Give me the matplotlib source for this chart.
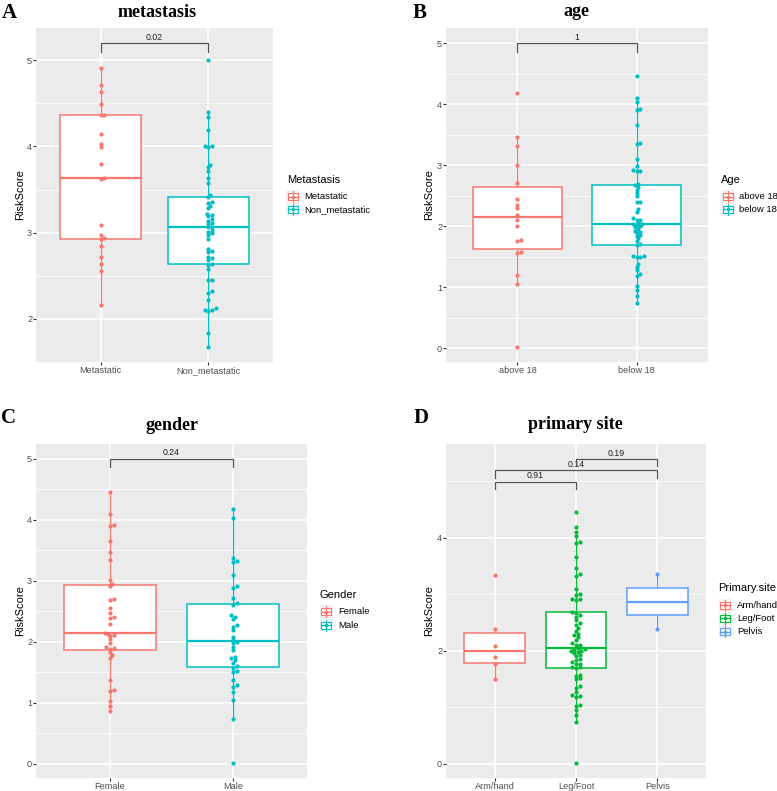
import numpy as np
import matplotlib
matplotlib.use("Agg")
import matplotlib.pyplot as plt
from matplotlib.patches import Rectangle
from matplotlib.lines import Line2D

plt.rcParams['font.family'] = ['Liberation Sans', 'DejaVu Sans']

# ---- data ----
meta_groups = ["Metastatic", "Non_metastatic"]
meta_metastatic = [4.91, 4.71, 4.63, 4.49, 4.37, 4.36, 4.15, 4.03, 3.99, 3.80, 3.63, 3.62,
                   3.09, 2.97, 2.94, 2.92, 2.84, 2.72, 2.64, 2.55, 2.16]
meta_non = [5.01, 4.40, 4.34, 4.19, 4.01, 4.00, 3.99, 3.79, 3.76, 3.72, 3.63, 3.58, 3.44,
            3.41, 3.36, 3.34, 3.31, 3.28, 3.22, 3.20, 3.19, 3.16, 3.14, 3.11, 3.10, 3.07,
            3.06, 3.03, 3.01, 2.99, 2.97, 2.93, 2.81, 2.79, 2.77, 2.72, 2.70, 2.68, 2.64,
            2.62, 2.58, 2.45, 2.45, 2.32, 2.30, 2.22, 2.12, 2.10, 2.10, 2.09, 1.83, 1.67]
meta_p = "0.02"

age_groups = ["above 18", "below 18"]
age_above = [4.19, 3.47, 3.32, 3.00, 2.71, 2.45, 2.35, 2.30, 2.19, 2.11, 2.00, 1.77, 1.76,
             1.58, 1.56, 1.20, 1.05, 0.02]
age_below = [4.46, 4.10, 4.03, 3.92, 3.91, 3.66, 3.36, 3.35, 3.10, 2.99, 2.92, 2.91, 2.90,
             2.69, 2.67, 2.64, 2.60, 2.54, 2.49, 2.40, 2.39, 2.28, 2.24, 2.13, 2.11, 2.10,
             2.06, 2.04, 2.03, 2.02, 2.00, 1.98, 1.96, 1.93, 1.91, 1.89, 1.86, 1.84, 1.80,
             1.76, 1.71, 1.69, 1.52, 1.51, 1.50, 1.50, 1.38, 1.34, 1.28, 1.21, 1.19, 1.02,
             0.95, 0.86, 0.74]
age_p = "1"

gender_groups = ["Female", "Male"]
gender_female = [4.46, 4.09, 3.91, 3.89, 3.65, 3.47, 3.34, 3.01, 2.95, 2.91, 2.70, 2.68,
                 2.55, 2.48, 2.41, 2.39, 2.29, 2.14, 2.13, 2.12, 2.09, 2.04, 1.98, 1.91,
                 1.90, 1.89, 1.84, 1.78, 1.74, 1.37, 1.21, 1.20, 1.03, 0.95, 0.87]
gender_male = [4.17, 4.03, 3.37, 3.33, 3.31, 3.09, 2.91, 2.89, 2.72, 2.63, 2.60, 2.44, 2.41,
               2.37, 2.28, 2.25, 2.19, 2.08, 2.03, 2.00, 1.98, 1.92, 1.87, 1.76, 1.73, 1.70,
               1.66, 1.61, 1.58, 1.52, 1.50, 1.37, 1.29, 1.26, 1.18, 1.04, 0.74, 0.01]
gender_p = "0.24"

site_groups = ["Arm/hand", "Leg/Foot", "Pelvis"]
site_arm = [3.33, 2.38, 2.09, 1.89, 1.76, 1.50]
site_leg = [4.46, 4.19, 4.10, 4.03, 3.92, 3.91, 3.66, 3.47, 3.36, 3.32, 3.10, 3.00, 2.99,
            2.92, 2.91, 2.90, 2.68, 2.67, 2.64, 2.60, 2.54, 2.49, 2.45, 2.40, 2.35, 2.30,
            2.28, 2.24, 2.19, 2.13, 2.11, 2.10, 2.04, 2.03, 2.02, 2.00, 2.00, 1.98, 1.96,
            1.93, 1.91, 1.86, 1.84, 1.80, 1.77, 1.76, 1.72, 1.71, 1.70, 1.58, 1.56, 1.51,
            1.50, 1.38, 1.34, 1.28, 1.21, 1.20, 1.19, 1.05, 1.02, 0.95, 0.86, 0.74, 0.02]
site_pelvis = [3.35, 2.39]
site_pairs = [(1, 2), (1, 3), (2, 3)]
site_p = ["0.91", "0.14", "0.19"]

pal2 = ['#F8766D', '#00BFC4']
pal3 = ['#F8766D', '#00BA38', '#619CFF']

W, H = 777, 791
fig = plt.figure(figsize=(W / 100, H / 100), dpi=100)


def fxy(x, y):
    return x / W, 1 - y / H


def swarm_offsets(vals, ypx, xunit, d=3.0):
    # simple beeswarm in pixel space, returns x offsets in data units
    vals = np.asarray(vals, dtype=float)
    ys = vals * ypx
    placed = []
    offs = np.zeros(len(vals))
    cands = [0.0]
    for k in range(1, 10):
        cands += [k * d * 0.6, -k * d * 0.6]
    for i in np.argsort(vals):
        y = ys[i]
        near = [(px, py) for px, py in placed if abs(py - y) < d]
        best = 0.0
        for c in cands:
            if all((c - px) ** 2 + (y - py) ** 2 >= d * d for px, py in near):
                best = c
                break
        placed.append((best, y))
        offs[i] = best * xunit
    return offs


def panel(box, groups, series, colors, ylim, yticks, yminor, brackets):
    x0, y0, x1, y1 = box
    ax = fig.add_axes([x0 / W, 1 - y1 / H, (x1 - x0) / W, (y1 - y0) / H])
    n = len(groups)
    ax.set_facecolor('#EBEBEB')
    for s in ax.spines.values():
        s.set_visible(False)

    bp = ax.boxplot(series, positions=range(1, n + 1), widths=0.75, patch_artist=True,
                    showfliers=False, showcaps=False, whis=1.5)
    for i, c in enumerate(colors):
        bp['boxes'][i].set(facecolor='white', edgecolor=c, linewidth=1.1, zorder=2)
        bp['medians'][i].set(color=c, linewidth=1.6, zorder=2.1)
        for w in bp['whiskers'][2 * i:2 * i + 2]:
            w.set(color=c, linewidth=0.9, zorder=1.9)

    ax.set_xlim(0.4, n + 0.6)
    ax.set_ylim(*ylim)
    ax.set_xticks(range(1, n + 1))
    ax.set_xticklabels(groups)
    ax.set_yticks(yticks)
    ax.set_yticklabels([f"{t:g}" for t in yticks])
    ax.set_yticks(yminor, minor=True)
    ax.grid(True, which='major', color='white', lw=1.1)
    ax.grid(True, which='minor', axis='y', color='white', lw=0.55)
    ax.set_axisbelow(True)
    ax.tick_params(which='minor', length=0)
    ax.tick_params(which='major', length=2.0, width=0.8, color='#333333',
                   labelsize=6.6, labelcolor='#4D4D4D', pad=0.8)

    ypx = (y1 - y0) / (ylim[1] - ylim[0])
    xunit = (n + 0.2) / (x1 - x0)
    for i, (vals, c) in enumerate(zip(series, colors)):
        off = swarm_offsets(vals, ypx, xunit)
        ax.scatter(i + 1 + off, vals, s=9, color=c, linewidths=0, zorder=3)

    for (a, b), yb, tip, lab in brackets:
        ax.plot([a, a, b, b], [yb - tip, yb, yb, yb - tip], color='#555555', lw=0.9,
                clip_on=False, zorder=4)
        ax.annotate(lab, (0.5 * (a + b), yb), xytext=(0, 2.4), textcoords='offset points',
                    ha='center', va='baseline', fontsize=6.3, color='#222222')
    return ax


def legend(title, labels, colors, tx, ty, kx, ky0, dy, lx):
    fig.text(*fxy(tx, ty), title, fontsize=8, ha='left', va='center')
    for i, (lab, c) in enumerate(zip(labels, colors)):
        cy = ky0 + i * dy
        fig.add_artist(Rectangle(fxy(kx - 6.5, cy + 6.3), 13 / W, 12.6 / H,
                                 transform=fig.transFigure, facecolor='#F2F2F2',
                                 edgecolor='none'))
        fig.add_artist(Line2D([kx / W] * 2, [1 - (cy - 5.5) / H, 1 - (cy + 5.5) / H],
                              transform=fig.transFigure, color=c, lw=0.8))
        fig.add_artist(Rectangle(fxy(kx - 5, cy + 3.5), 10 / W, 7 / H,
                                 transform=fig.transFigure, facecolor='white',
                                 edgecolor=c, lw=0.8))
        fig.add_artist(Line2D([(kx - 5) / W, (kx + 5) / W], [1 - cy / H] * 2,
                              transform=fig.transFigure, color=c, lw=1.0))
        fig.add_artist(Line2D([kx / W], [1 - cy / H], transform=fig.transFigure,
                              marker='o', ms=2.6, color=c, mec='none', lw=0))
        fig.text(*fxy(lx, cy), lab, fontsize=6.8, ha='left', va='center')


def heading(letter, lx, ly, title, tx, ty):
    fig.text(*fxy(lx, ly), letter, fontsize=15, fontweight='bold',
             family='Liberation Serif', ha='left', va='baseline')
    fig.text(*fxy(tx, ty), title, fontsize=13, fontweight='bold',
             family='Liberation Serif', ha='center', va='baseline')


def ylab(x, y):
    fig.text(*fxy(x, y), "RiskScore", fontsize=8, rotation=90, ha='center', va='center')


# A: metastasis
panel((36, 28, 273, 362), meta_groups, [meta_metastatic, meta_non], pal2,
      (1.497, 5.376), [2, 3, 4, 5], [1.5, 2.5, 3.5, 4.5],
      [((1, 2), 5.20, 0.10, meta_p)])
heading("A", 2, 18.3, "metastasis", 157, 16.7)
ylab(20, 195)
legend("Metastasis", meta_groups, pal2, 287, 180, 292.5, 196.7, 12.7, 304.5)

# B: age
panel((446, 28, 708, 362), age_groups, [age_above, age_below], pal2,
      (-0.225, 5.25), [0, 1, 2, 3, 4, 5], [0.5, 1.5, 2.5, 3.5, 4.5],
      [((1, 2), 5.0, 0.14, age_p)])
heading("B", 413, 18.3, "age", 576, 15.7)
ylab(429, 195)
legend("Age", age_groups, pal2, 721, 180, 728, 196.7, 12.7, 739)

# C: gender
panel((36, 444, 307, 778), gender_groups, [gender_female, gender_male], pal2,
      (-0.23, 5.241), [0, 1, 2, 3, 4, 5], [0.5, 1.5, 2.5, 3.5, 4.5],
      [((1, 2), 5.0, 0.13, gender_p)])
heading("C", 1, 423.3, "gender", 172, 430)
ylab(20, 611)
legend("Gender", gender_groups, pal2, 319.5, 595, 326, 611.7, 13.3, 338)

# D: primary site
panel((446, 444, 706, 778), site_groups, [site_arm, site_leg, site_pelvis], pal3,
      (-0.248, 5.653), [0, 2, 4], [1, 3, 5],
      [(site_pairs[0], 4.99, 0.13, site_p[0]),
       (site_pairs[1], 5.19, 0.13, site_p[1]),
       (site_pairs[2], 5.39, 0.13, site_p[2])])
heading("D", 414, 423.3, "primary site", 575, 429.3)
ylab(429, 611)
legend("Primary.site", site_groups, pal3, 718.5, 588.3, 725, 605, 13.3, 737)

fig.savefig("out.png", dpi=100, facecolor='white')
